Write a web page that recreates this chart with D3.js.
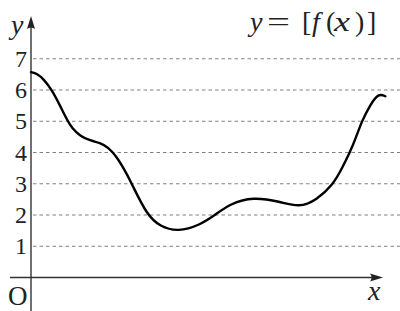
<!DOCTYPE html>
<html>
<head>
<meta charset="utf-8">
<script src="https://cdn.jsdelivr.net/npm/d3@7"></script>
<style>
  body { margin: 0; background: #fff; }
  svg { display: block; }
  .grid { stroke: #808080; stroke-width: 1; stroke-dasharray: 3.5 3; }
  .axis { stroke: #333; stroke-width: 1.4; fill: none; }
  .curve { stroke: #000; stroke-width: 2.4; fill: none; }
  text { font-family: "Liberation Serif", "DejaVu Serif", serif; fill: #222; }
</style>
</head>
<body>
<script>
var xs = [0.00, 0.19, 0.42, 0.67, 0.93, 1.15, 1.31, 1.57, 1.89, 2.21, 2.46, 2.72, 3.01, 3.23,
          3.71, 4.13, 4.70, 5.41, 5.89, 6.37, 7.10, 7.97, 8.58, 9.14, 9.67, 9.94,
          10.21, 10.39, 10.58, 10.85, 11.12, 11.34];
var ys = [6.57, 6.53, 6.33, 6.00, 5.50, 5.05, 4.78, 4.53, 4.38, 4.31, 4.17, 3.90, 3.42, 2.99,
          2.00, 1.63, 1.46, 1.68, 2.00, 2.36, 2.58, 2.43, 2.24, 2.48, 2.98, 3.47,
          4.02, 4.45, 4.99, 5.52, 5.90, 5.80];
var yTicks = [1, 2, 3, 4, 5, 6, 7];

var width = 400, height = 311;

var svg = d3.select("body").append("svg")
    .attr("width", width)
    .attr("height", height);

var x = d3.scaleLinear().domain([0, 11.5]).range([31, 31 + 11.5 * 31.25]);
var y = d3.scaleLinear().domain([0, 7]).range([277.5, 277.5 - 7 * 31.25]);

var data = xs.map(function(d, i) { return {x: d, y: ys[i]}; });

// dashed grid lines
svg.selectAll(".grid")
    .data(yTicks)
    .enter().append("line")
    .attr("class", "grid")
    .attr("x1", x(0) + 2)
    .attr("x2", width)
    .attr("y1", function(d) { return y(d); })
    .attr("y2", function(d) { return y(d); });

// tick labels
svg.selectAll(".tick")
    .data(yTicks)
    .enter().append("text")
    .attr("class", "tick")
    .attr("x", 27)
    .attr("y", function(d) { return y(d) + 8; })
    .attr("text-anchor", "end")
    .style("font-size", "24px")
    .text(function(d) { return d; });

// axes
var x0 = x(0), y0 = y(0);
svg.append("line").attr("class", "axis")
    .attr("x1", 10).attr("x2", 376).attr("y1", y0).attr("y2", y0);
svg.append("line").attr("class", "axis")
    .attr("x1", x0).attr("x2", x0).attr("y1", 24).attr("y2", height);

// arrow heads
svg.append("path")
    .attr("d", "M383," + y0 + " L370," + (y0 - 4) + " Q373," + y0 + " 370," + (y0 + 4) + " Z")
    .attr("fill", "#222");
svg.append("path")
    .attr("d", "M" + x0 + ",16 L" + (x0 - 4) + ",29 Q" + x0 + ",26 " + (x0 + 4) + ",29 Z")
    .attr("fill", "#222");

// the curve (basis smooths the hand-read points)
var line = d3.line()
    .x(function(d) { return x(d.x); })
    .y(function(d) { return y(d.y); })
    .curve(d3.curveBasis);

svg.append("path")
    .datum(data)
    .attr("class", "curve")
    .attr("stroke-linecap", "round")
    .attr("d", line);

// labels
svg.append("text").attr("x", 8).attr("y", 305)
    .style("font-size", "27px").text("O");
svg.append("text").attr("x", 368).attr("y", 300)
    .style("font-size", "28px").style("font-style", "italic").text("x");
svg.append("text").attr("x", 11).attr("y", 34)
    .style("font-size", "28px").style("font-style", "italic").text("y");

// title y = [f(x)], pieces placed like the math typesetting
var titleParts = [
  {t: "y", x: 250, it: true}, {t: "=", x: 267, it: false, w: 23}, {t: "[", x: 302, it: false},
  {t: "f", x: 312, it: true}, {t: "(", x: 326, it: false}, {t: "x", x: 334, it: true, w: 16},
  {t: ")", x: 355, it: false}, {t: "]", x: 367, it: false}
];
titleParts.forEach(function(d) {
  var t = svg.append("text").attr("x", d.x).attr("y", 31)
      .style("font-size", "28px")
      .style("font-style", d.it ? "italic" : "normal")
      .text(d.t);
  if (d.w) t.attr("textLength", d.w).attr("lengthAdjust", "spacingAndGlyphs");
});
</script>
</body>
</html>
